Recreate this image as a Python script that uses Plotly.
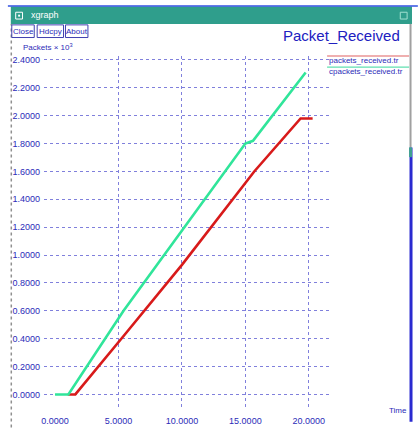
import plotly.graph_objects as go

# ---- data ----
red_name = "packets_received.tr"
red_t = [1.0, 1.6, 5.5, 10.0, 15.7, 19.35, 20.3]
red_v = [0.0, 0.0, 0.43, 0.93, 1.60, 1.98, 1.98]

green_name = "cpackets_received.tr"
green_t = [0.0, 1.05, 5.4, 15.0, 15.6, 19.75]
green_v = [0.0, 0.0, 0.60, 1.80, 1.82, 2.31]

y_ticks = [0.0, 0.2, 0.4, 0.6, 0.8, 1.0, 1.2, 1.4, 1.6, 1.8, 2.0, 2.2, 2.4]
x_ticks = [0, 5, 10, 15, 20]
x_grid = [5, 10, 15, 20]

W, H = 420, 438
L, R, T, B = 37, 90, 56, 18
PW, PH = W - L - R, H - T - B


def px(x):
    return (x - L) / PW


def py(y):
    return 1 - (y - T) / PH


BLUE = "#2b2bb8"
GRID = "#8080dc"
FONT = "Liberation Sans, Arial, sans-serif"

fig = go.Figure()
fig.add_trace(go.Scatter(x=red_t, y=red_v, mode="lines", name=red_name,
                         line=dict(color="#d81a1a", width=2.6), showlegend=False))
fig.add_trace(go.Scatter(x=green_t, y=green_v, mode="lines", name=green_name,
                         line=dict(color="#30e59a", width=2.6), showlegend=False))
# invisible trace on the label axis
fig.add_trace(go.Scatter(x=[0], y=[0], xaxis="x2", mode="markers",
                         marker=dict(opacity=0), showlegend=False, hoverinfo="skip"))

xr = [(L - 48.3) / 13, (L + PW - 48.3) / 13]
yr = [-(420 - 404) / 143.3, (404 - 56) / 143.3]

fig.update_layout(
    width=W, height=H,
    margin=dict(l=L, r=R, t=T, b=B),
    paper_bgcolor="white", plot_bgcolor="white",
    font=dict(family=FONT, color=BLUE, size=9),
    xaxis=dict(range=xr, tickvals=x_grid, showticklabels=False, showgrid=True,
               gridcolor=GRID, griddash="dot", gridwidth=1, zeroline=False,
               showline=False, ticks=""),
    xaxis2=dict(range=xr, overlaying="x", tickvals=x_ticks,
                ticktext=["%.4f" % v for v in x_ticks], showgrid=False,
                zeroline=False, showline=False, side="bottom",
                tickfont=dict(size=9, color=BLUE), ticks="outside", ticklen=2,
                tickcolor="rgba(0,0,0,0)"),
    yaxis=dict(range=yr, tickvals=y_ticks, ticktext=["%.4f" % v for v in y_ticks],
               showgrid=True, gridcolor=GRID, griddash="dot", gridwidth=1,
               zeroline=False, showline=False, tickfont=dict(size=9, color=BLUE),
               ticks="", ticklabelstandoff=3),
)

shapes = []
# window frame
shapes.append(dict(type="rect", xref="paper", yref="paper", x0=px(3), x1=px(414),
                   y0=py(23), y1=py(5), fillcolor="#2f9e8c", line=dict(width=0), layer="above"))
shapes.append(dict(type="line", xref="paper", yref="paper", x0=px(0), x1=px(420),
                   y0=py(4.5), y1=py(4.5), line=dict(color="#3050e0", width=1.5)))
shapes.append(dict(type="rect", xref="paper", yref="paper", x0=px(8), x1=px(15),
                   y0=py(18), y1=py(11), line=dict(color="white", width=1), fillcolor="#2f9e8c"))
shapes.append(dict(type="rect", xref="paper", yref="paper", x0=px(10.5), x1=px(12.5),
                   y0=py(15.5), y1=py(13.5), line=dict(width=0), fillcolor="white"))
shapes.append(dict(type="rect", xref="paper", yref="paper", x0=px(402), x1=px(409),
                   y0=py(18), y1=py(11), line=dict(color="#a0e0d0", width=1)))
shapes.append(dict(type="line", xref="paper", yref="paper", x0=px(3.5), x1=px(3.5),
                   y0=py(438), y1=py(23), line=dict(color="#909090", width=1.5, dash="dot")))
shapes.append(dict(type="line", xref="paper", yref="paper", x0=px(412.5), x1=px(412.5),
                   y0=py(150), y1=py(23), line=dict(color="#a0a0a0", width=2)))
shapes.append(dict(type="line", xref="paper", yref="paper", x0=px(413), x1=px(413),
                   y0=py(432), y1=py(150), line=dict(color="#2a2ad0", width=3)))
shapes.append(dict(type="line", xref="paper", yref="paper", x0=px(412.5), x1=px(412.5),
                   y0=py(160), y1=py(150), line=dict(color="#40a090", width=3)))
# buttons
for x0, x1 in [(4, 27), (30, 57), (59, 82)]:
    shapes.append(dict(type="rect", xref="paper", yref="paper", x0=px(x0), x1=px(x1),
                       y0=py(37), y1=py(24), line=dict(color="#4040b0", width=1)))
# legend lines
shapes.append(dict(type="line", xref="paper", yref="paper", x0=px(327), x1=px(411),
                   y0=py(56), y1=py(56), line=dict(color="#e06060", width=1.2)))
shapes.append(dict(type="line", xref="paper", yref="paper", x0=px(327), x1=px(411),
                   y0=py(67.5), y1=py(67.5), line=dict(color="#60e0b0", width=1.2)))

ann = []


def text(x, y, s, size=8, anchor="left", color=BLUE):
    ann.append(dict(xref="paper", yref="paper", x=px(x), y=py(y), text=s, showarrow=False,
                    xanchor=anchor, yanchor="middle", font=dict(size=size, color=color, family=FONT)))


text(22, 13.5, "xgraph", size=9, color="white")
text(15.5, 31, "Close", anchor="center")
text(43.5, 31, "Hdcpy", anchor="center")
text(70.5, 31, "About", anchor="center")
text(342, 35, "Packet_Received", size=15, anchor="center", color="#2020c0")
text(13, 47, "Packets × 10<sup>3</sup>", size=8)
text(327, 61, red_name, size=8)
text(327, 72, green_name, size=8)
text(411, 421, "Time", size=8, anchor="right")

fig.update_layout(shapes=shapes, annotations=ann)
fig.write_html("out.html")
